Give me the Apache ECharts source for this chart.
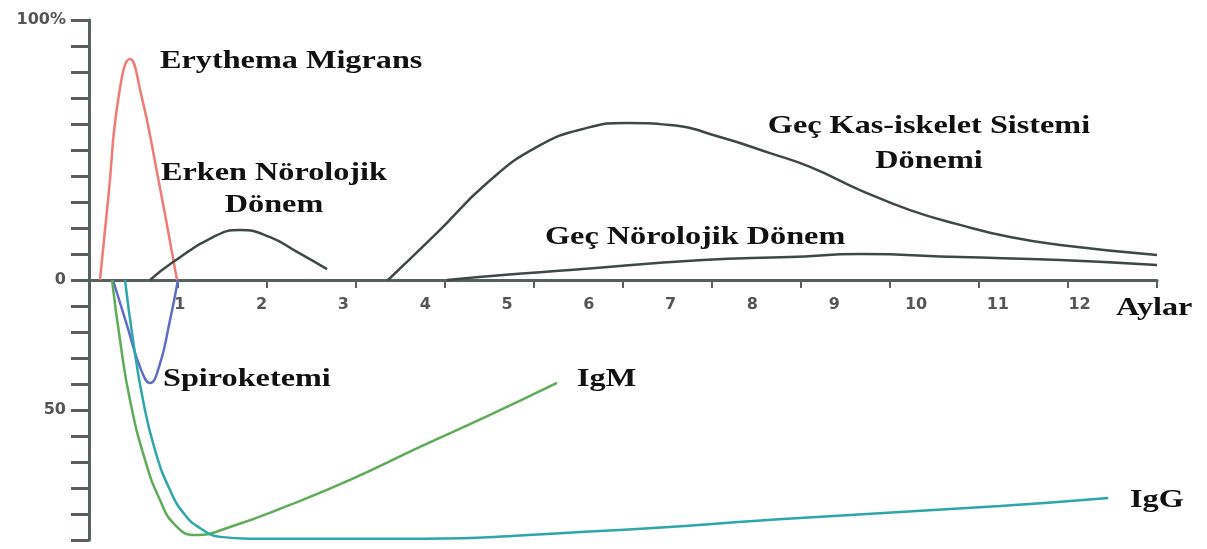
<!DOCTYPE html>
<html><head><meta charset="utf-8">
<script src="https://cdn.jsdelivr.net/npm/echarts@6/dist/echarts.min.js"></script>
<style>html,body{margin:0;padding:0;background:#fff}#c{width:1207px;height:549px}</style>
</head><body><div id="c"></div>
<script>
// ---- data (x: months, y: percent; negative = antibody/spirochetemia below axis) ----
const monthLabels = [1,2,3,4,5,6,7,8,9,10,11,12];
const yTickLabels = {"100":"100%","0":"0","-50":"50"};

const erythemaMigrans = [[0.024,0],[0.13,33],[0.25,70],[0.391,85],[0.53,71],[0.70,45],[0.966,0]];
const spiroketemi = [[0.183,0],[0.35,-17],[0.52,-34],[0.636,-39.6],[0.75,-33],[0.87,-17],[0.978,0]];
const erkenNorolojik = [[0.636,0],[0.917,6.9],[1.406,16.5],[1.736,19.2],[2.103,16.5],[2.433,10.8],[2.800,4.2]];
const gecKasIskelet = [[3.545,0],[4.144,18.1],[4.756,37.3],[5.367,51.2],[5.978,58.5],[6.467,60.4],[6.993,59.6],[7.604,55],[8.215,48.8],[8.704,43.5],[9.315,34.6],[9.927,26.9],[10.538,21.2],[11.149,16.5],[11.760,13.5],[12.946,9.6]];
const gecNorolojik = [[4.267,0],[4.951,1.9],[5.770,3.8],[7.396,7.7],[8.460,8.8],[9.315,10],[10.538,8.8],[11.760,7.7],[12.946,5.8]];
const igM = [[0.171,0],[0.269,-23.1],[0.391,-46.2],[0.575,-69.2],[0.758,-84.6],[0.941,-94.2],[1.186,-98.1],[1.614,-95],[2.347,-86.5],[3.081,-76.9],[3.936,-64.2],[4.792,-51.9],[5.611,-39.6]];
const igG = [[0.330,0],[0.428,-23.1],[0.550,-46.2],[0.697,-65.4],[0.880,-80.8],[1.064,-90.4],[1.247,-95.4],[1.491,-98.8],[1.858,-99.5],[3.692,-99.5],[6.137,-96.5],[8.582,-91.5],[11.03,-86.9],[12.35,-83.8]];

const chart = echarts.init(document.getElementById('c'), null, {renderer:'canvas'});
const axisColor = '#575f5f';
const labelFont = {fontFamily:'DejaVu Sans', fontWeight:'bold', fontSize:16, color:'#555'};
const serif = 'bold 26px "Liberation Serif", "Times New Roman", serif';

function line(name, data, color){
  return {name, type:'line', xAxisIndex:1, yAxisIndex:0, data, smooth:0.5,
    showSymbol:false, symbol:'none', lineStyle:{color, width:2.5}, z:3};
}
function txt(text, x, y, align){
  return {type:'text', x, y, scaleX:1.24, scaleY:1, z:10,
    style:{text, x:0, y:0, font:serif, fill:'#111', textAlign:align||'left', textVerticalAlign:'middle'}};
}

chart.setOption({
  animation:false,
  grid:{left:89, right:50, top:20, bottom:9, containLabel:false, outerBoundsMode:'none'},
  xAxis:[
    {type:'value', min:0, max:12, interval:1, position:'bottom',
     axisLine:{onZero:true, lineStyle:{color:axisColor, width:3}},
     axisTick:{show:true, length:8, lineStyle:{color:axisColor, width:2}},
     axisLabel:{show:false}, splitLine:{show:false}},
    {type:'value', min:-0.11, max:12.946, position:'bottom', offset:-260,
     axisLine:{show:false, onZero:false}, axisTick:{show:false}, splitLine:{show:false},
     axisLabel:Object.assign({show:true, margin:17, customValues:monthLabels, formatter:v=>String(v)}, labelFont)}
  ],
  yAxis:[{type:'value', min:-100, max:100, interval:10,
    axisLine:{show:true, lineStyle:{color:axisColor, width:3}},
    axisTick:{show:true, length:18, lineStyle:{color:axisColor, width:3}},
    splitLine:{show:false},
    axisLabel:Object.assign({margin:23, formatter:v=> (yTickLabels[String(v)]!==undefined ? yTickLabels[String(v)] : '')}, labelFont)}],
  series:[
    line('Erythema Migrans', erythemaMigrans, '#ef7b74'),
    line('Spiroketemi', spiroketemi, '#5d6ec4'),
    line('Erken Nörolojik Dönem', erkenNorolojik, '#3f4848'),
    line('Geç Kas-iskelet Sistemi Dönemi', gecKasIskelet, '#3f4848'),
    line('Geç Nörolojik Dönem', gecNorolojik, '#3f4848'),
    line('IgM', igM, '#5eab58'),
    line('IgG', igG, '#2ea6aa')
  ],
  graphic:[
    txt('Erythema Migrans', 160, 61),
    txt('Erken Nörolojik', 274, 173, 'center'),
    txt('Dönem', 274, 205, 'center'),
    txt('Spiroketemi', 163, 379),
    txt('IgM', 577, 379),
    txt('IgG', 1130, 500),
    txt('Geç Kas-iskelet Sistemi', 929, 126, 'center'),
    txt('Dönemi', 929, 161, 'center'),
    txt('Geç Nörolojik Dönem', 545, 237),
    txt('Aylar', 1116, 308)
  ]
});
</script></body></html>
